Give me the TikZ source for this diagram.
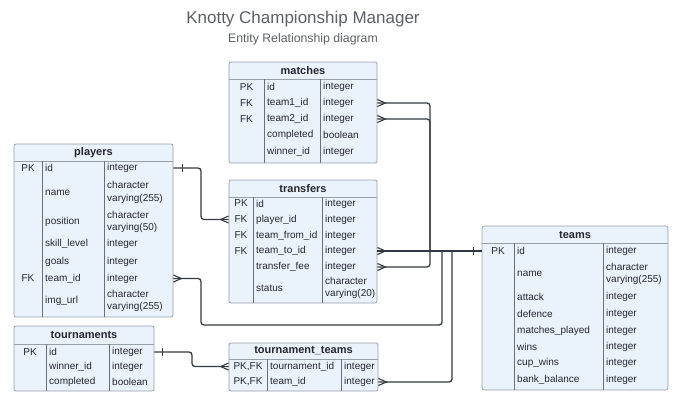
\documentclass[tikz,border=0pt]{standalone}
\usepackage{fontspec}
\setmainfont{Liberation Sans}
\usetikzlibrary{calc,fit}
\definecolor{boxfill}{RGB}{234,242,252}
\definecolor{boxline}{RGB}{150,160,172}
\definecolor{divline}{RGB}{105,112,122}
\definecolor{connc}{RGB}{52,58,66}
\definecolor{txt}{RGB}{38,40,44}
\definecolor{ttl}{RGB}{92,96,102}
\tikzset{
  tbl/.style={draw=boxline, fill=boxfill, rounded corners=2pt, line width=0.8pt, inner sep=0pt},
  hdrline/.style={draw=boxline, line width=0.8pt},
  colline/.style={draw=divline, line width=0.6pt},
  hdr/.style={font=\fontsize{11}{13}\selectfont\bfseries, text=txt, inner sep=0pt},
  cell/.style={font=\fontsize{10}{12.5}\selectfont, text=txt, inner sep=0pt, anchor=west, align=left},
  keyc/.style={font=\fontsize{10}{12}\selectfont, text=txt, inner sep=0pt},
  conn/.style={draw=connc, line width=1.3pt, rounded corners=3pt},
  crow/.style={draw=connc, line width=1.1pt},
  maintitle/.style={font=\fontsize{17}{20}\selectfont, text=ttl, inner sep=0pt},
  subtitle/.style={font=\fontsize{12.3}{14}\selectfont, text=ttl, inner sep=0pt},
}
% #1 name #2 L #3 T #4 R #5 B #6 H #7 D1 #8 D2 #9 title
\newcommand\ertable[9]{%
  \node[tbl, fit={(#2,#3) (#4,#5)}] (#1) {};
  \draw[hdrline] (#2,#6) -- (#4,#6);
  \draw[colline] (#7,#6) -- (#7,#5);
  \draw[colline] (#8,#6) -- (#8,#5);
  \node[hdr] (#1-title) at ($(#2,#3)!0.5!(#4,#6)$) {#9};
}
% #1 name #2 key x #3 field x #4 type x #5 y #6 key #7 field #8 type
\newcommand\errow[8]{%
  \node[keyc] (#1-k) at (#2,#5) {#6};
  \node[cell] (#1) at (#3,#5) {#7};
  \node[cell] (#1-t) at (#4,#5) {#8};
}
\newcommand\crowR[1]{\draw[crow] ($(#1)+(0,-3.5)$) -- ++(8,3.5) -- ++(-8,3.5);}
\newcommand\crowL[1]{\draw[crow] ($(#1)+(0,-3.5)$) -- ++(-8,3.5) -- ++(8,3.5);}
\newcommand\tick[2]{\draw[crow] ($(#1)+(#2,-4)$) -- ++(0,8);}
\begin{document}
\begin{tikzpicture}[x=1pt,y=-1pt]
\useasboundingbox (0,0) rectangle (684,402);
\node[maintitle] (ttl) at (303,19) {Knotty Championship Manager};
\node[subtitle] (sub) at (303,39) {Entity Relationship diagram};

% matches
\ertable{matches}{229}{62}{377}{163}{79}{264}{320}{matches}
\errow{mid}{246.5}{267}{323}{87}{PK}{id}{integer}
\errow{mt1}{246.5}{267}{323}{103}{FK}{team1\_id}{integer}
\errow{mt2}{246.5}{267}{323}{119}{FK}{team2\_id}{integer}
\errow{mcomp}{246.5}{267}{323}{135}{}{completed}{boolean}
\errow{mwin}{246.5}{267}{323}{152}{}{winner\_id}{integer}

% players
\ertable{players}{14}{144}{173}{317}{161}{42}{104}{players}
\errow{pid}{28}{45}{107}{168}{PK}{id}{integer}
\errow{pname}{28}{45}{107}{192.5}{}{name}{character\\varying(255)}
\errow{ppos}{28}{45}{107}{222}{}{position}{character\\varying(50)}
\errow{pskill}{28}{45}{107}{244}{}{skill\_level}{integer}
\errow{pgoals}{28}{45}{107}{261.5}{}{goals}{integer}
\errow{pteam}{28}{45}{107}{278.5}{FK}{team\_id}{integer}
\errow{pimg}{28}{45}{107}{301}{}{img\_url}{character\\varying(255)}

% transfers
\ertable{transfers}{229}{180}{377}{303}{197}{253}{322}{transfers}
\errow{tid}{241}{256}{325}{203.5}{PK}{id}{integer}
\errow{tplayer}{241}{256}{325}{219.5}{FK}{player\_id}{integer}
\errow{tfrom}{241}{256}{325}{235.5}{FK}{team\_from\_id}{integer}
\errow{tto}{241}{256}{325}{251}{FK}{team\_to\_id}{integer}
\errow{tfee}{241}{256}{325}{267}{}{transfer\_fee}{integer}
\errow{tstat}{241}{256}{325}{288}{}{status}{character\\varying(20)}

% teams
\ertable{teams}{482}{226}{668}{390}{243}{514}{603}{teams}
\errow{teid}{498}{517}{606}{251}{PK}{id}{integer}
\errow{tename}{498}{517}{606}{274}{}{name}{character\\varying(255)}
\errow{teatt}{498}{517}{606}{297}{}{attack}{integer}
\errow{tedef}{498}{517}{606}{314}{}{defence}{integer}
\errow{temp}{498}{517}{606}{331}{}{matches\_played}{integer}
\errow{tewins}{498}{517}{606}{347}{}{wins}{integer}
\errow{tecup}{498}{517}{606}{363}{}{cup\_wins}{integer}
\errow{tebank}{498}{517}{606}{380}{}{bank\_balance}{integer}

% tournaments
\ertable{tournaments}{14}{326}{154}{391}{344}{46}{109}{tournaments}
\errow{tnid}{30}{49}{112}{352}{PK}{id}{integer}
\errow{tnwin}{30}{49}{112}{367}{}{winner\_id}{integer}
\errow{tncomp}{30}{49}{112}{382}{}{completed}{boolean}

% tournament_teams
\ertable{tteams}{229}{343}{378}{391}{359}{267}{341}{tournament\_teams}
\errow{tttour}{248}{270}{344}{366.5}{PK,FK}{tournament\_id}{integer}
\errow{ttteam}{248}{270}{344}{382}{PK,FK}{team\_id}{integer}

% bus positions
\coordinate (bxA) at (201,0);
\coordinate (bxB) at (430,0);
\coordinate (bxC) at (442,0);
\coordinate (bxD) at (192,0);
\coordinate (bxE) at (452,0);
\coordinate (lowy) at (0,325);

% end points
\coordinate (e1) at (players.east |- pid);
\coordinate (e2) at (transfers.west |- tplayer);
\coordinate (e3) at (matches.east |- mt1);
\coordinate (e4) at (matches.east |- mt2);
\coordinate (e5) at (transfers.east |- tto);
\coordinate (e6) at (transfers.east |- tfee);
\coordinate (e7) at (players.east |- pteam);
\coordinate (e8) at (tournaments.east |- tnid);
\coordinate (e9) at (tteams.west |- tttour);
\coordinate (e10) at (tteams.east |- ttteam);
\coordinate (e11) at (teams.west |- teid);

% connectors
\draw[conn] (e1) -| (bxA |- e2) -- (e2);
\draw[conn] (e3) -| (bxB |- e11);
\draw[conn] (e4) -| (bxB |- e11);
\draw[conn] (e5) -- (e11);
\draw[conn] (e6) -| (bxB |- e11);
\draw[conn] (e7) -| (bxA |- lowy) -| (bxC |- e11);
\draw[conn] (e8) -| (bxD |- e9) -- (e9);
\draw[conn] (e10) -| (bxE |- e11);

% cardinality marks
\tick{e1}{9}
\tick{e8}{8}
\tick{e11}{-8}
\crowL{e2}
\crowR{e3}
\crowR{e4}
\crowR{e5}
\crowR{e6}
\crowR{e7}
\crowL{e9}
\crowR{e10}
\end{tikzpicture}
\end{document}
